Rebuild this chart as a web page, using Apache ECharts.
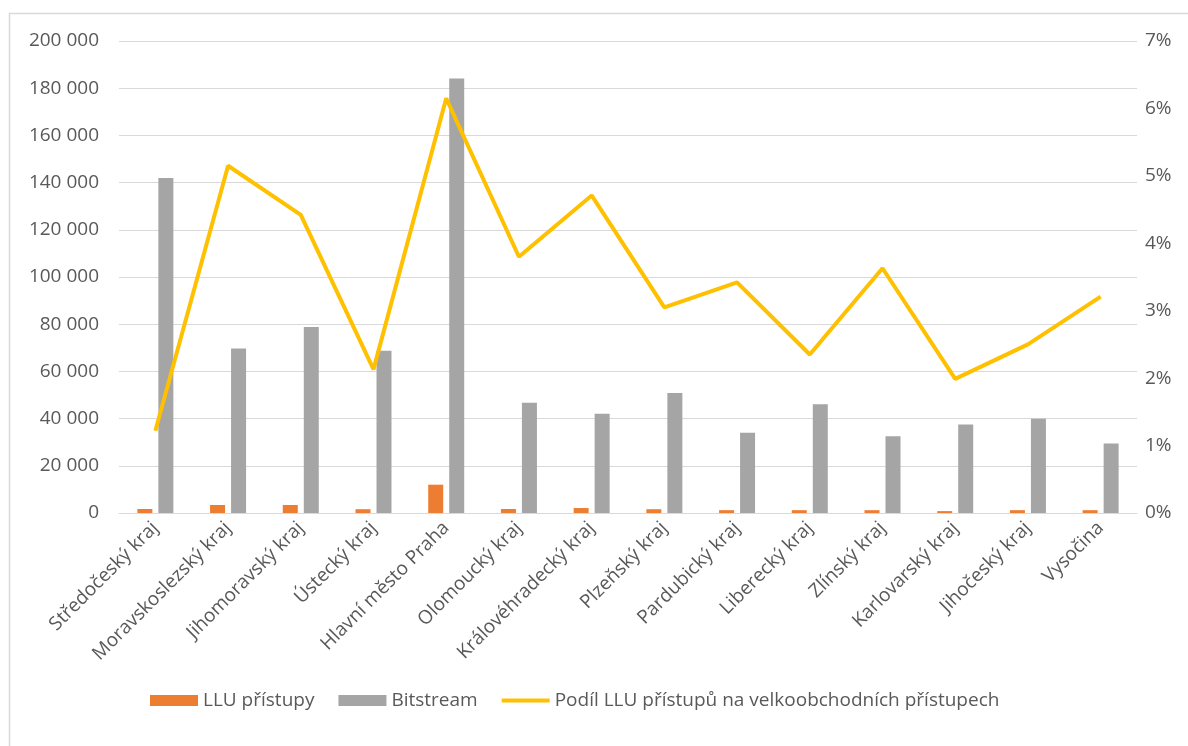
<!DOCTYPE html>
<html>
<head>
<meta charset="utf-8">
<script src="https://cdn.jsdelivr.net/npm/echarts@6/dist/echarts.min.js"></script>
<style>
  html, body {margin: 0; padding: 0; background: #fff;}
  #chart {width: 1188px; height: 746px;}
</style>
</head>
<body>
<div id="chart"></div>
<script>
const regions = ['Středočeský kraj', 'Moravskoslezský kraj', 'Jihomoravský kraj', 'Ústecký kraj',
  'Hlavní město Praha', 'Olomoucký kraj', 'Královéhradecký kraj', 'Plzeňský kraj', 'Pardubický kraj',
  'Liberecký kraj', 'Zlínský kraj', 'Karlovarský kraj', 'Jihočeský kraj', 'Vysočina']
const llu = [1700, 3400, 3400, 1600, 12000, 1700, 2100, 1600, 1200, 1200, 1200, 800, 1200, 1200]
const bitstream = [142000, 69700, 78800, 68800, 184100, 46700, 42100, 50900, 34000, 46100, 32500, 37500, 39900, 29500]
const share = [1.22, 5.15, 4.42, 2.13, 6.15, 3.80, 4.71, 3.05, 3.42, 2.35, 3.63, 1.99, 2.50, 3.21]

const font = 'Open Sans, Noto Sans, sans-serif'
const textColor = '#595959'
const fontSize = 19

const fmtNum = v => String(v).replace(/\B(?=(\d{3})+(?!\d))/g, ' ')

const chart = echarts.init(document.getElementById('chart'))
chart.setOption({
  animation: false,
  textStyle: {fontFamily: font, color: textColor},
  graphic: [{
    type: 'rect',
    shape: {x: 9.5, y: 13.5, width: 1200, height: 760},
    style: {fill: 'none', stroke: '#d9d9d9', lineWidth: 1.5},
    silent: true,
  }],
  grid: {left: 119, right: 51, top: 41, bottom: 233},
  legend: {
    top: 686,
    left: 145,
    itemGap: 24,
    itemWidth: 48,
    itemHeight: 11,
    textStyle: {fontFamily: font, fontSize: fontSize, color: textColor},
    data: [
      {name: 'LLU přístupy', icon: 'rect'},
      {name: 'Bitstream', icon: 'rect'},
      {name: 'Podíl LLU přístupů na velkoobchodních přístupech', icon: 'path://M0,0 L48,0 L48,4 L0,4 Z'},
    ],
  },
  xAxis: {
    type: 'category',
    data: regions,
    axisTick: {show: false},
    axisLine: {lineStyle: {color: '#d9d9d9', width: 1}},
    axisLabel: {
      rotate: 45,
      interval: 0,
      margin: 12,
      fontSize: fontSize,
      color: textColor,
      fontFamily: font,
    },
  },
  yAxis: [{
    type: 'value',
    min: 0,
    max: 200000,
    interval: 20000,
    axisLine: {show: false},
    axisTick: {show: false},
    splitLine: {lineStyle: {color: '#d9d9d9', width: 1}},
    axisLabel: {
      margin: 20,
      fontSize: fontSize,
      color: textColor,
      fontFamily: font,
      formatter: fmtNum,
    },
  }, {
    type: 'value',
    min: 0,
    max: 7,
    interval: 1,
    axisLine: {show: false},
    axisTick: {show: false},
    splitLine: {show: false},
    axisLabel: {
      margin: 8,
      fontSize: fontSize,
      color: textColor,
      fontFamily: font,
      formatter: v => v + '%',
    },
  }],
  series: [{
    name: 'LLU přístupy',
    type: 'bar',
    data: llu,
    barWidth: 15,
    barGap: '40%',
    itemStyle: {color: '#ed7d31'},
  }, {
    name: 'Bitstream',
    type: 'bar',
    data: bitstream,
    barWidth: 15,
    itemStyle: {color: '#a5a5a5'},
  }, {
    name: 'Podíl LLU přístupů na velkoobchodních přístupech',
    type: 'line',
    yAxisIndex: 1,
    data: share,
    symbol: 'none',
    lineStyle: {color: '#ffc000', width: 4},
    itemStyle: {color: '#ffc000'},
  }],
})
</script>
</body>
</html>
